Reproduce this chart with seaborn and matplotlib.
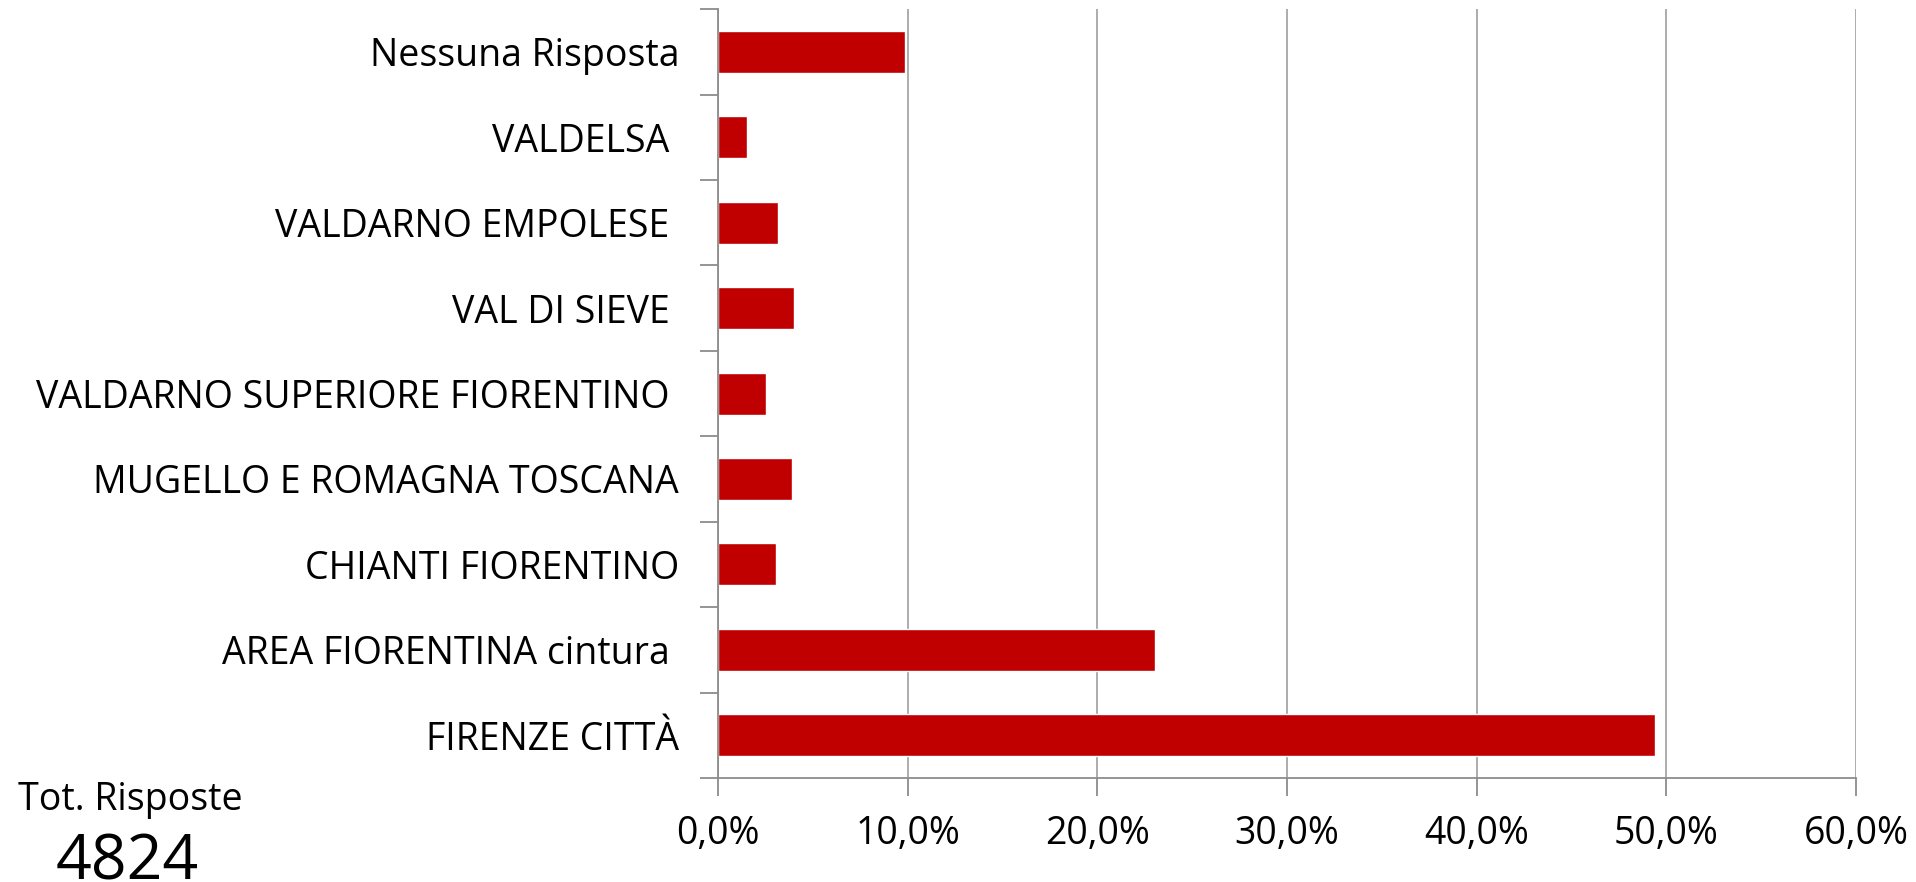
import matplotlib
matplotlib.use("Agg")
import matplotlib.pyplot as plt
import seaborn as sns
import pandas as pd
from matplotlib.ticker import FuncFormatter, MultipleLocator, FixedLocator

categories = ["Nessuna Risposta", "VALDELSA ", "VALDARNO EMPOLESE ", "VAL DI SIEVE ",
              "VALDARNO SUPERIORE FIORENTINO ", "MUGELLO E ROMAGNA TOSCANA",
              "CHIANTI FIORENTINO", "AREA FIORENTINA cintura ", "FIRENZE CITTÀ"]
values = [9.85, 1.55, 3.16, 3.99, 2.51, 3.89, 3.08, 23.05, 49.4]
total_label = "Tot. Risposte"
total_value = "4824"

sns.set_theme(style="white")
plt.rcParams['font.family'] = ['Open Sans', 'DejaVu Sans']

df = pd.DataFrame({"cat": categories, "val": values})

fig = plt.figure(figsize=(19.16, 8.82), dpi=100)
ax = fig.add_axes([0.3747, 0.118, 0.9687 - 0.3747, 0.9895 - 0.118])

sns.barplot(data=df, x="val", y="cat", order=categories, color="#C00000",
            saturation=1, width=0.49, ax=ax, orient="h")

ax.set_xlim(0, 60)
ax.set_ylim(len(categories) - 0.5, -0.5)
ax.xaxis.set_major_locator(MultipleLocator(10))
ax.xaxis.set_major_formatter(FuncFormatter(lambda v, p: f"{v:.1f}%".replace(".", ",")))
ax.grid(axis="x", color="#A6A6A6", linewidth=1.3)
ax.grid(axis="y", visible=False)
ax.set_axisbelow(True)

for s in ["top", "right"]:
    ax.spines[s].set_visible(False)
for s in ["left", "bottom"]:
    ax.spines[s].set_color("#8C8C8C")
    ax.spines[s].set_linewidth(1.3)

ax.yaxis.set_minor_locator(FixedLocator([i - 0.5 for i in range(len(categories) + 1)]))
ax.tick_params(axis="y", which="major", length=0, pad=28, labelsize=27, labelcolor="#000000")
ax.tick_params(axis="y", which="minor", length=13, width=1.3, color="#8C8C8C", direction="out", left=True)
ax.tick_params(axis="x", which="major", length=13, width=1.3, color="#8C8C8C", direction="out",
               bottom=True, pad=14, labelsize=27, labelcolor="#000000")
ax.set_xlabel("")
ax.set_ylabel("")

fig.text(18 / 1916, 1 - 800 / 882, total_label, fontsize=27, va="center", ha="left", color="#000000")
fig.text(127 / 1916, 1 - 863 / 882, total_value, fontsize=45, va="center", ha="center", color="#000000")

fig.savefig("out.png", dpi=100, facecolor="white")
